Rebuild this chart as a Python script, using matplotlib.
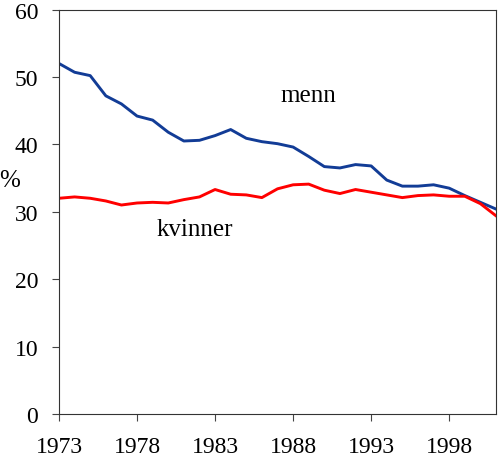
import matplotlib
matplotlib.use("Agg")
import matplotlib.pyplot as plt

# andel (%) per år
years = list(range(1973, 2002))
menn = [52.0, 50.7, 50.2, 47.2, 46.0, 44.2, 43.6, 41.8, 40.5, 40.6,
        41.3, 42.2, 40.9, 40.4, 40.1, 39.6, 38.2, 36.7, 36.5, 37.0,
        36.8, 34.7, 33.8, 33.8, 34.0, 33.5, 32.4, 31.4, 30.4]
kvinner = [32.0, 32.2, 32.0, 31.6, 31.0, 31.3, 31.4, 31.3, 31.8, 32.2,
           33.3, 32.6, 32.5, 32.1, 33.4, 34.0, 34.1, 33.2, 32.7, 33.3,
           32.9, 32.5, 32.1, 32.4, 32.5, 32.3, 32.3, 31.2, 29.4]
xticks = [1973, 1978, 1983, 1988, 1993, 1998]
yticks = [0, 10, 20, 30, 40, 50, 60]

plt.rcParams['font.family'] = ['Liberation Serif', 'DejaVu Serif']
plt.rcParams['font.size'] = 17

fig = plt.figure(figsize=(5, 4.6), dpi=100)
ax = fig.add_axes([0.118, 0.098, 0.874, 0.879])

ax.plot(years, menn, color='#123c96', linewidth=2.1)
ax.plot(years, kvinner, color='#ff0000', linewidth=2.1)

ax.set_xlim(1973, 2001)
ax.set_ylim(0, 60)
ax.set_xticks(xticks)
ax.set_yticks(yticks)
ax.tick_params(direction='out', length=5, width=0.8, pad=10, color='#444444')
ax.tick_params(axis='x', pad=11)
for s in ax.spines.values():
    s.set_linewidth(0.8)
    s.set_color('#333333')

ax.text(1989.0, 46.4, 'menn', ha='center', va='baseline', fontsize=18)
ax.text(1981.7, 26.6, 'kvinner', ha='center', va='baseline', fontsize=18)
fig.text(10 / 500, 1 - 187 / 460, '%', ha='center', va='baseline', fontsize=18)

fig.savefig('out.png', dpi=100)
